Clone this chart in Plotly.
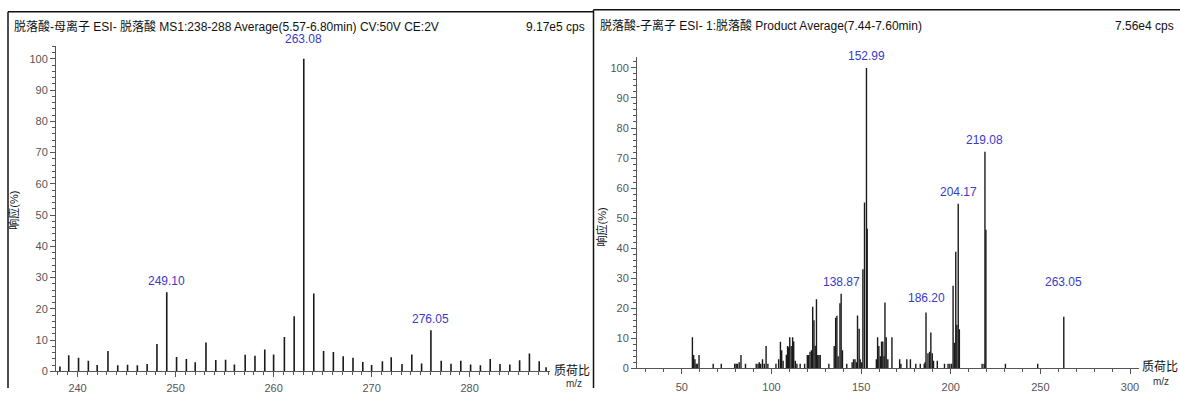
import plotly.graph_objects as go

W, H = 1180, 394

# ---------------- data ----------------
left_mz = [238.2, 239.1, 240.1, 241.1, 242.0, 243.1, 244.1, 245.1, 246.1, 247.1, 248.1,
           249.10, 250.1, 251.1, 252.0, 253.1, 254.1, 255.1, 256.0, 257.1, 258.1, 259.1,
           260.0, 261.1, 262.1, 263.08, 264.1, 265.1, 266.1, 267.1, 268.1, 269.1, 270.0,
           271.1, 272.0, 273.1, 274.1, 275.1, 276.05, 277.1, 278.1, 279.1, 280.1, 281.1,
           282.1, 283.1, 284.1, 285.1, 286.1, 287.1, 287.8]
left_int = [1.5, 5.1, 4.3, 3.4, 2.0, 6.5, 1.9, 2.1, 1.9, 2.3, 8.7,
            25.3, 4.6, 3.9, 2.9, 9.2, 3.6, 3.7, 2.2, 5.3, 5.0, 7.0,
            5.4, 11.0, 17.6, 100.0, 24.9, 6.5, 6.2, 4.8, 4.3, 3.0, 2.0,
            3.2, 4.5, 2.3, 5.4, 2.5, 13.1, 3.4, 2.4, 3.4, 2.2, 1.9,
            3.9, 2.3, 2.2, 3.5, 5.7, 3.2, 1.3]

right_mz = [55.9, 56.6, 57.3, 58.0, 58.6, 59.6, 67.5, 72.0, 79.5, 80.3, 81.0, 82.0, 83.0, 85.5,
            91.5, 92.5, 93.2, 94.0, 95.0, 96.0, 97.0, 98.0, 102.5, 104.0, 105.0, 105.7, 106.5,
            108.3, 109.0, 109.6, 110.2, 111.0, 111.8, 112.4, 113.3, 114.2, 116.0, 118.5,
            120.0, 120.7, 121.5, 122.3, 123.0, 123.7, 124.4, 125.1, 125.8, 126.5, 127.2,
            132.0, 135.0, 135.8, 136.5, 137.2, 138.2, 138.87, 139.6, 142.0, 145.0, 145.8,
            146.6, 147.4, 148.0, 148.9, 149.5, 150.3, 151.0, 151.9, 152.99, 153.4,
            158.5, 159.2, 159.9, 160.7, 161.4, 162.1, 162.8, 163.3, 164.0, 164.9, 167.2,
            171.5, 172.2, 175.5, 177.5, 180.5, 183.0, 185.2, 185.7, 186.20, 187.3, 188.2,
            188.9, 189.7, 190.4, 192.5, 196.5, 198.5, 199.5, 200.5, 201.3, 202.0, 202.8,
            203.4, 204.17, 204.8, 217.5, 218.6, 219.08, 219.6, 230.5, 248.5, 263.05]
right_int = [10.3, 4.4, 3.0, 1.5, 1.5, 4.4, 1.5, 1.5, 1.5, 1.5, 1.5, 2.0, 4.4, 1.5,
             1.5, 1.5, 2.0, 1.5, 3.0, 1.5, 7.4, 1.5, 1.5, 3.0, 8.8, 6.0, 2.5,
             4.5, 7.4, 7.0, 10.3, 7.4, 10.3, 8.9, 2.5, 1.5, 1.5, 1.5,
             4.4, 4.4, 5.5, 6.0, 20.5, 16.0, 7.5, 23.0, 4.4, 4.4, 4.4,
             1.5, 7.4, 16.8, 17.5, 4.0, 21.7, 24.8, 6.0, 1.5, 2.0, 3.0,
             3.0, 2.0, 17.6, 13.2, 3.0, 2.0, 33.0, 55.2, 100.0, 46.5,
             3.0, 10.3, 7.4, 4.0, 8.9, 8.9, 4.0, 21.9, 10.3, 3.0, 10.3,
             3.0, 1.5, 3.0, 3.0, 1.5, 1.5, 1.5, 2.0, 18.6, 5.0, 5.5,
             11.9, 5.0, 2.5, 2.5, 1.5, 1.5, 1.5, 1.5, 27.5, 8.5, 38.8,
             14.5, 54.8, 13.0, 1.5, 1.5, 72.1, 46.1, 1.5, 1.5, 17.2]

left_labels = ["249.10", "263.08", "276.05"]
right_labels = ["138.87", "152.99", "186.20", "204.17", "219.08", "263.05"]
left_label_shift = [2, 11, 2]
right_label_shift = [3, 3, 5, 3, 3, 26]

left_title = "脱落酸-母离子 ESI- 脱落酸 MS1:238-288 Average(5.57-6.80min) CV:50V CE:2V"
left_cps = "9.17e5 cps"
right_title = "脱落酸-子离子 ESI- 1:脱落酸 Product Average(7.44-7.60min)"
right_cps = "7.56e4 cps"
y_title = "响应(%)"
x_title_cn = "质荷比"
x_title_en = "m/z"


def px(x):
    return x / W


def py(y):
    return 1 - y / H


def sticks(mz, inten):
    xs, ys = [], []
    for m, v in zip(mz, inten):
        xs += [m, m, None]
        ys += [0, v, None]
    return xs, ys


FONT = "Liberation Sans, Arial, Noto Sans CJK SC, sans-serif"
BLUE = "#3a3ac8"

fig = go.Figure()
lx, ly = sticks(left_mz, left_int)
rx, ry = sticks(right_mz, right_int)
fig.add_trace(go.Scatter(x=lx, y=ly, mode="lines", line=dict(color="#1a1a1a", width=1.6),
                         xaxis="x", yaxis="y", showlegend=False, hoverinfo="skip"))
fig.add_trace(go.Scatter(x=rx, y=ry, mode="lines", line=dict(color="#1a1a1a", width=1.4),
                         xaxis="x2", yaxis="y2", showlegend=False, hoverinfo="skip"))

axis_common = dict(showline=True, linecolor="#555", linewidth=1, ticks="outside",
                   tickcolor="#555", ticklen=5, showgrid=False, zeroline=False,
                   tickfont=dict(family=FONT, size=11, color="#555"), fixedrange=True)

fig.update_layout(
    width=W, height=H, margin=dict(l=0, r=0, t=0, b=0),
    paper_bgcolor="white", plot_bgcolor="white", showlegend=False,
    xaxis=dict(domain=[px(56), px(550)], range=[237.8, 288.2], anchor="y",
               tickmode="linear", tick0=240, dtick=10, ticklabelstandoff=2,
               minor=dict(ticks="outside", dtick=1, ticklen=3, tickcolor="#555"),
               **axis_common),
    yaxis=dict(domain=[py(377), py(47)], range=[0, 104], anchor="x",
               tickmode="linear", tick0=0, dtick=10,
               minor=dict(ticks="outside", dtick=2, ticklen=3, tickcolor="#555"),
               **axis_common),
    xaxis2=dict(domain=[px(637), px(1139)], range=[25, 305], anchor="y2",
                tickmode="linear", tick0=50, dtick=50, ticklabelstandoff=3,
                minor=dict(ticks="outside", dtick=10, ticklen=3, tickcolor="#555"),
                **axis_common),
    yaxis2=dict(domain=[py(374), py(58)], range=[0, 103.6], anchor="x2",
                tickmode="linear", tick0=0, dtick=10,
                minor=dict(ticks="outside", dtick=2, ticklen=3, tickcolor="#555"),
                **axis_common),
)

ann = []
# peak labels
for lab, sh in zip(left_labels, left_label_shift):
    i = left_mz.index(float(lab))
    ann.append(dict(x=left_mz[i], y=left_int[i], xref="x", yref="y", text=lab,
                    showarrow=False, yanchor="bottom", yshift=sh,
                    font=dict(family=FONT, size=12, color=BLUE)))
for lab, sh in zip(right_labels, right_label_shift):
    i = right_mz.index(float(lab))
    ann.append(dict(x=right_mz[i], y=right_int[i], xref="x2", yref="y2", text=lab,
                    showarrow=False, yanchor="bottom", yshift=sh,
                    font=dict(family=FONT, size=12, color=BLUE)))

# headers
ann += [
    dict(x=px(12), y=py(27), xref="paper", yref="paper", text=left_title, showarrow=False,
         xanchor="left", yanchor="middle", font=dict(family=FONT, size=12, color="#111")),
    dict(x=px(587), y=py(27), xref="paper", yref="paper", text=left_cps, showarrow=False,
         xanchor="right", yanchor="middle", font=dict(family=FONT, size=12, color="#111")),
    dict(x=px(598), y=py(26), xref="paper", yref="paper", text=right_title, showarrow=False,
         xanchor="left", yanchor="middle", font=dict(family=FONT, size=12, color="#111")),
    dict(x=px(1176), y=py(26), xref="paper", yref="paper", text=right_cps, showarrow=False,
         xanchor="right", yanchor="middle", font=dict(family=FONT, size=12, color="#111")),
    # y titles
    dict(x=px(14), y=py(214), xref="paper", yref="paper", text=y_title, showarrow=False,
         textangle=-90, xanchor="center", yanchor="middle",
         font=dict(family=FONT, size=11, color="#111")),
    dict(x=px(601), y=py(231), xref="paper", yref="paper", text=y_title, showarrow=False,
         textangle=-90, xanchor="center", yanchor="middle",
         font=dict(family=FONT, size=11, color="#111")),
    # x titles
    dict(x=px(572), y=py(377), xref="paper", yref="paper", text=x_title_cn, showarrow=False,
         xanchor="center", yanchor="middle", font=dict(family=FONT, size=12, color="#111")),
    dict(x=px(574), y=py(389), xref="paper", yref="paper", text=x_title_en, showarrow=False,
         xanchor="center", yanchor="middle", font=dict(family=FONT, size=10, color="#333")),
    dict(x=px(1160), y=py(373), xref="paper", yref="paper", text=x_title_cn, showarrow=False,
         xanchor="center", yanchor="middle", font=dict(family=FONT, size=12, color="#111")),
    dict(x=px(1161), y=py(387), xref="paper", yref="paper", text=x_title_en, showarrow=False,
         xanchor="center", yanchor="middle", font=dict(family=FONT, size=10, color="#333")),
]
fig.update_layout(annotations=ann)

line_style = dict(color="#111", width=1.5)
fig.update_layout(shapes=[
    dict(type="line", xref="paper", yref="paper", x0=px(8), x1=px(593.5), y0=py(12), y1=py(12), line=line_style),
    dict(type="line", xref="paper", yref="paper", x0=px(8), x1=px(8), y0=py(12), y1=0, line=line_style),
    dict(type="line", xref="paper", yref="paper", x0=px(593.5), x1=px(593.5), y0=py(10), y1=0, line=line_style),
    dict(type="line", xref="paper", yref="paper", x0=px(593.5), x1=1, y0=py(10), y1=py(10), line=line_style),
])

fig.write_html("out.html", config={"displayModeBar": False},
               post_script="document.body.style.margin='0px';document.body.style.overflow='hidden';")
